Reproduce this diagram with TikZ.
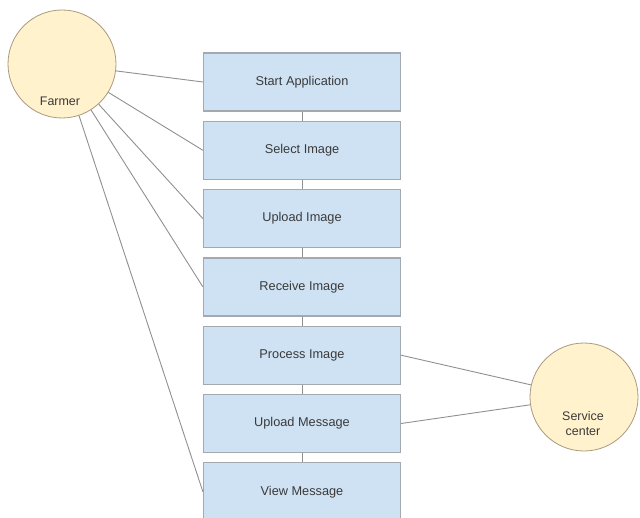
\documentclass[tikz,border=0pt]{standalone}
\usepackage{fontspec}
\setmainfont{Liberation Sans}
\definecolor{boxfill}{HTML}{CFE2F3}
\definecolor{boxline}{HTML}{A3A9AF}
\definecolor{actorfill}{HTML}{FFF2CC}
\definecolor{actorline}{HTML}{A89A7E}
\definecolor{linkline}{HTML}{909090}
\definecolor{textgray}{HTML}{3A3A3A}
\tikzset{
  stepbox/.style={draw=boxline, fill=boxfill, line width=1.2bp, minimum width=197bp,
    minimum height=58bp, inner sep=0pt, text=textgray, font=\fontsize{12.8}{14}\selectfont},
  actor/.style={circle, draw=actorline, fill=actorfill, line width=0.8bp, minimum size=108bp, inner sep=0pt},
  actortext/.style={text=textgray, align=center, font=\fontsize{12.5}{15}\selectfont},
  link/.style={draw=linkline, line width=0.9bp}
}
\begin{document}
\begin{tikzpicture}[x=1bp,y=-1bp]
  \useasboundingbox (0,0) rectangle (640,518);
  \def\boxx{302}
  \def\boxtop{82}
  \def\pitch{68.3}

  % the steps
  \foreach \i/\name/\txt in {0/start/Start Application, 1/select/Select Image, 2/upload/Upload Image,
      3/receive/Receive Image, 4/process/Process Image, 5/message/Upload Message, 6/view/View Message} {
    \node[stepbox] (\name) at (\boxx, \boxtop+\pitch*\i) {\txt};
  }
  \foreach \a/\b in {start/select, select/upload, upload/receive, receive/process, process/message, message/view} {
    \draw[link] (\a.south) -- (\b.north);
  }

  % the actors
  \node[actor] (farmer) at (62,64) {};
  \node[actortext] (farmertext) at (60,101) {Farmer};
  \node[actor] (service) at (584,397) {};
  \node[actortext] (servicetext) at (583,424) {Service\\center};

  \foreach \name in {start, select, upload, receive, view} {
    \draw[link] (farmer) -- (\name.west);
  }
  \draw[link] (service) -- (process.east);
  \draw[link] (service) -- (message.east);
\end{tikzpicture}
\end{document}
